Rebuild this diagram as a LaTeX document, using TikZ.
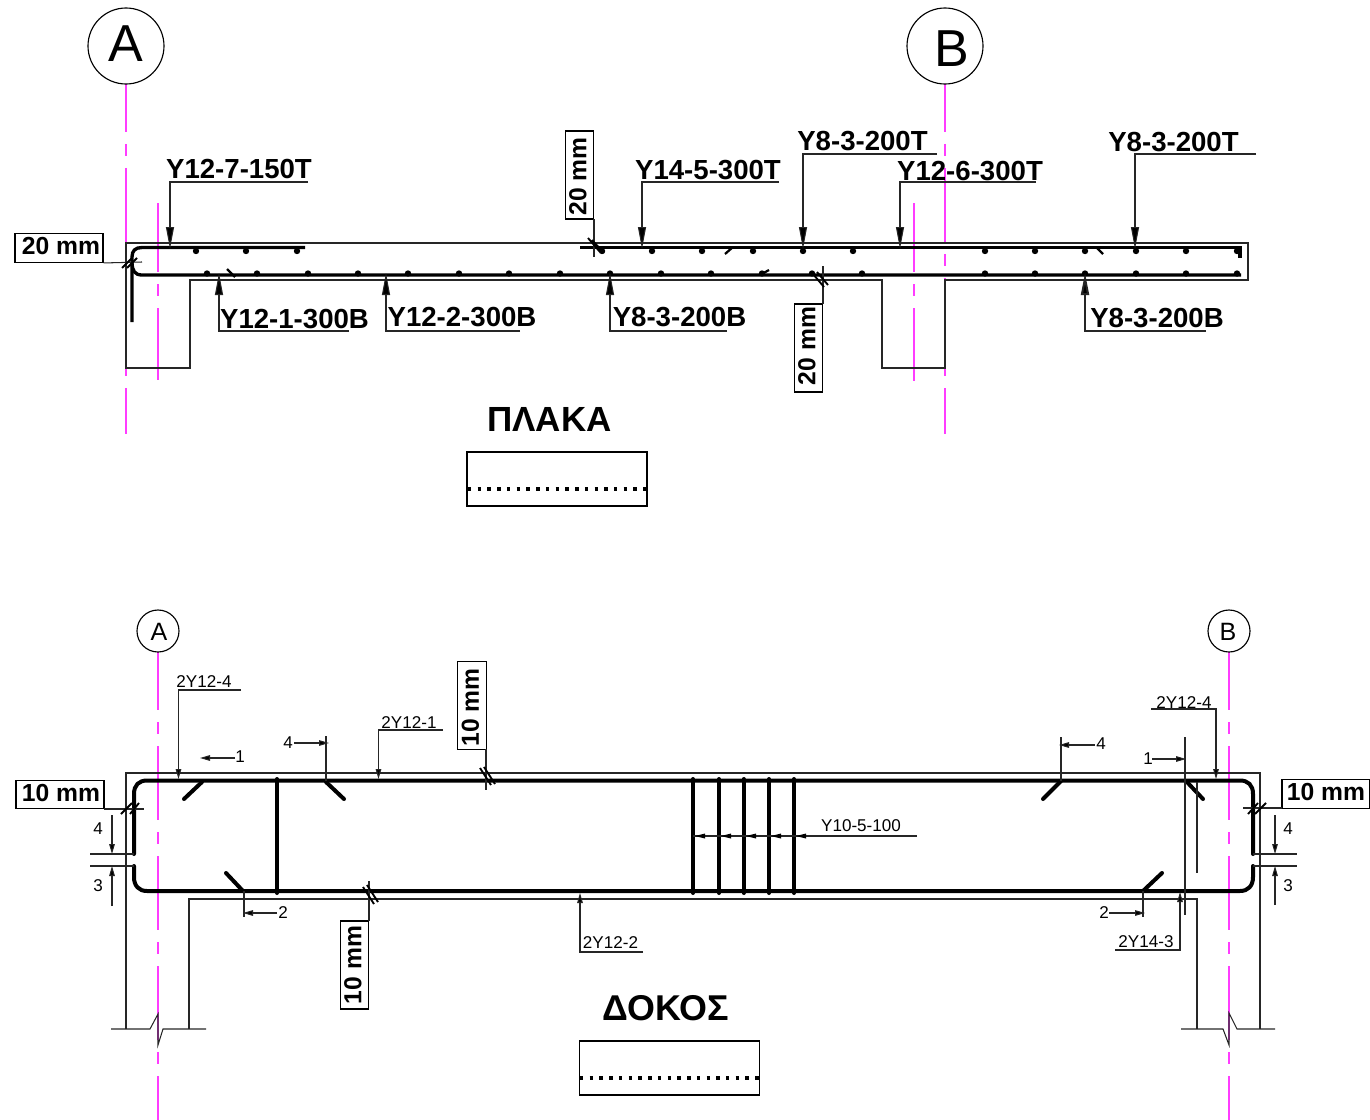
\documentclass[tikz,border=0pt]{standalone}
\usepackage{fontspec}
\setmainfont{Liberation Sans}
\usetikzlibrary{arrows.meta}
\definecolor{axis}{RGB}{255,60,255}
\tikzset{
 thinl/.style={line width=0.78pt,black!85},
 axisl/.style={line width=0.95pt,axis,dash pattern=on 55.5pt off 9pt on 9pt off 9pt},
 axisp/.style={axisl,dash phase=19.5pt},
 axisd/.style={axisl,dash phase=12pt},
 axiss/.style={line width=0.95pt,axis,dash pattern=on 52pt off 9pt on 9pt off 9pt on 60pt off 9pt},
 bar/.style={line width=2.5pt,black},
 barb/.style={line width=3pt,black,line cap=round},
 bigarrow/.style={thinl,-{Triangle[length=16.5pt,width=6pt,fill=black]}},
 smallarrow/.style={thinl,-{Triangle[length=7.5pt,width=4.2pt,fill=black]}},
 biglabel/.style={font=\fontsize{20.7}{24}\selectfont\bfseries,inner sep=0pt},
 boxlabel/.style={font=\fontsize{18.5}{22}\selectfont\bfseries,inner sep=0pt,draw,line width=0.95pt,minimum width=66pt,minimum height=21.5pt},
 smalllabel/.style={font=\fontsize{12.8}{15}\selectfont,inner sep=0pt,yshift=-0.2pt},
 axisring/.style={circle,draw,line width=0.85pt,inner sep=0pt},
 ringbig/.style={font=\fontsize{39}{44}\selectfont,inner sep=0pt},
 ringsmall/.style={font=\fontsize{18.8}{22}\selectfont,inner sep=0pt},
 sectick/.style={line width=1.4pt,black},
 rodtick/.style={line width=1.7pt,black},
 secbox/.style={draw,line width=1.1pt,minimum width=135pt,minimum height=40.5pt,inner sep=0pt},
 dottedrule/.style={line width=2.4pt,black,dash pattern=on 2.6pt off 4.7pt}
}
\newcommand{\rb}[1]{\raisebox{2.5pt}{#1}}
\begin{document}
\begin{tikzpicture}[x=0.75pt,y=-0.75pt]
\useasboundingbox (0,0) rectangle (1370,1120);
% ---------- PLAKA ----------
\draw[axisp] (126,84) -- (126,434);
\draw[axisp] (945,84) -- (945,434);
\draw[axiss] (158,203) -- (158,380);
\draw[axiss] (914,203) -- (914,381);
\node[axisring,minimum size=57pt] (circA) at (126,46) {};
\node[ringbig] (lblA) at (126,44) {A};
\node[axisring,minimum size=57pt] (circB) at (945,46) {};
\node[ringbig] (lblB) at (952,49) {B};
% concrete
\draw[thinl] (126,243) -- (1248,243) -- (1248,280) -- (945,280) -- (945,368) -- (882,368) -- (882,280) -- (190,280) -- (190,368) -- (126,368) -- cycle;
% bars
\draw[bar] (305,247.5) -- (142,247.5) .. controls (135,247.5) and (132,251) .. (132,257) -- (132,322);
\draw[bar] (132,262) .. controls (132,271) and (135,275) .. (142,275) -- (1241,275);
\draw[bar] (580,247.5) -- (1240,247.5) -- (1240,258);
\foreach \x in {196,246,297,602,652,702,753,803,853,985,1035,1085,1136,1186,1237}
  \fill (\x,251) circle (3.2);
\foreach \x in {207,257,308,358,408,459,509,560,610,661,711,762,812,862,985,1035,1085,1136,1186,1237}
  \fill (\x,273.5) circle (3.2);
\draw[rodtick] (227,269) -- (235,277);
\draw[rodtick] (725,254) -- (733,247);
\draw[rodtick] (760,275) -- (769,270);
\draw[rodtick] (1096,247) -- (1103,254);
% leaders top
\node[biglabel] (p1) at (239,169) {Y12-7-150T};
\node[biglabel] (p2) at (708,170) {Y14-5-300T};
\node[biglabel] (p3) at (862.5,141) {Y8-3-200T};
\node[biglabel] (p4) at (970,171) {Y12-6-300T};
\node[biglabel] (p5) at (1173.5,142) {Y8-3-200T};
\draw[bigarrow] (308,182) -- (170,182) -- (170,249);
\draw[bigarrow] (779,182) -- (642,182) -- (642,249);
\draw[bigarrow] (937,154) -- (803,154) -- (803,249);
\draw[bigarrow] (1036,182) -- (900,182) -- (900,249);
\draw[bigarrow] (1256,154) -- (1135,154) -- (1135,249);
% leaders bottom
\node[biglabel] (p6) at (294.5,319) {Y12-1-300B};
\node[biglabel] (p7) at (462,317.5) {Y12-2-300B};
\node[biglabel] (p8) at (679.5,317.5) {Y8-3-200B};
\node[biglabel] (p9) at (1157,318) {Y8-3-200B};
\draw[bigarrow] (349,331) -- (219,331) -- (219,273);
\draw[bigarrow] (520,331) -- (386,331) -- (386,273);
\draw[bigarrow] (727,331) -- (610,331) -- (610,273);
\draw[bigarrow,line width=1.5pt] (1206,331) -- (1085,331) -- (1085,273);
% cover dims
\node[boxlabel] (c1) at (59,248) {\rb{\hspace*{3pt}20 mm}};
\draw[thinl] (c1.south east) -- (142,262);
\draw[sectick] (122,268) -- (132,258) (127,268) -- (137,258);
\node[boxlabel,rotate=90] (c2) at (579.5,175) {\rb{20 mm\hspace*{2pt}}};
\draw[thinl] (594,219) -- (594,257);
\draw[sectick] (588,238) -- (600,252) (592,240) -- (604,253);
\node[boxlabel,rotate=90] (c3) at (808.5,348) {\rb{\hspace*{3pt}20 mm}};
\draw[thinl] (823,304) -- (823,266);
\draw[sectick] (817,272) -- (828,285) (813,274) -- (824,287);
% title
\node[font=\fontsize{26.2}{30}\selectfont\bfseries,inner sep=0pt] (t1) at (549.5,419) {ΠΛΑΚΑ};
\node[secbox] (s1) at (557,479) {};
\draw[dottedrule] (468,489) -- (646,489);
% ---------- DOKOS ----------
\draw[axisd] (158,652) -- (158,1120);
\draw[axisd] (1229,652) -- (1229,1120);
\node[axisring,minimum size=31.5pt] (circA2) at (158,631) {};
\node[ringsmall] (lblA2) at (159,632) {A};
\node[axisring,minimum size=31.5pt] (circB2) at (1229,631) {};
\node[ringsmall] (lblB2) at (1228,632) {B};
% concrete
\draw[thinl] (126,1029) -- (126,773) -- (1260,773) -- (1260,1029);
\draw[thinl] (189,1029) -- (189,899) -- (1197,899) -- (1197,1029);
\draw[thinl] (111,1029) -- (150,1029) -- (158,1014) -- (158,1045) -- (163,1029) -- (206,1029);
\draw[thinl] (1181,1029) -- (1223,1029) -- (1229,1045) -- (1229,1013) -- (1237,1029) -- (1275,1029);
% bars
\draw[barb] (134,854) -- (134,794) .. controls (134,785) and (139,780.5) .. (147,780.5) -- (1240,780.5) .. controls (1248,780.5) and (1253,785) .. (1253,794) -- (1253,854);
\draw[barb] (134,866) -- (134,877) .. controls (134,886) and (139,891) .. (147,891) -- (1240,891) .. controls (1248,891) and (1253,886) .. (1253,877) -- (1253,866);
\foreach \x in {277,693,719,743.5,769,794}
  \draw[barb] (\x,779) -- (\x,893);
\draw[barb] (184,799) -- (202,782);
\draw[barb] (326,782) -- (344,799);
\draw[barb] (226,873) -- (243,891);
\draw[barb] (1043,799) -- (1061,781);
\draw[barb] (1186,781) -- (1203,799);
\draw[barb] (1143,891) -- (1162,873);
% leaders
\node[smalllabel] (d1) at (204,681) {2Y12-4};
\draw[smallarrow] (241,690) -- (178.5,690) -- (178.5,779);
\node[smalllabel] (d2) at (409,722) {2Y12-1};
\draw[smallarrow] (443,730) -- (378.5,730) -- (378.5,779);
\node[smalllabel] (d3) at (1184,702) {2Y12-4};
\draw[smallarrow] (1151,709) -- (1216,709) -- (1216,779);
\node[smalllabel] (d4) at (1146,941) {2Y14-3};
\draw[smallarrow] (1115,950) -- (1180,950) -- (1180,892);
\node[smalllabel] (d5) at (610.5,942) {2Y12-2};
\draw[smallarrow] (643,952) -- (580,952) -- (580,893);
\node[smalllabel] (d6) at (861,825) {Y10-5-100};
\draw[thinl] (917,836) -- (693,836);
\foreach \x in {695,721,746,771,796}
  \fill (\x,836) -- (\x+10,833.5) -- (\x+10,838.5) -- cycle;
% section marks
\node[smalllabel] (m1) at (240,756) {1};
\draw[smallarrow] (235,758) -- (200,758);
\node[smalllabel] (m2) at (288,742) {4};
\draw[smallarrow] (294,743) -- (329,743);
\draw[thinl] (326,736) -- (326,781);
\node[smalllabel] (m3) at (283,912) {2};
\draw[smallarrow] (277,913) -- (243,913);
\draw[thinl] (244,891) -- (244,917);
\node[smalllabel] (m4) at (1101,743) {4};
\draw[smallarrow] (1095,745) -- (1059,745);
\draw[thinl] (1061,737) -- (1061,781);
\node[smalllabel] (m5) at (1148,758) {1};
\draw[smallarrow] (1152,759) -- (1186,759);
\draw[thinl] (1185,737) -- (1185,915);
\draw[thinl] (1197,782) -- (1197,873);
\node[smalllabel] (m6) at (1104,912) {2};
\draw[smallarrow] (1109,913) -- (1145,913);
\draw[thinl] (1143,891) -- (1143,917);
% cover dims
\node[boxlabel] (c4) at (60,794.5) {\rb{\hspace*{1.5pt}10 mm}};
\draw[thinl] (104,809) -- (144,809);
\draw[sectick] (121,814) -- (132,803) (130,814) -- (139,803);
\node[boxlabel] (c5) at (1326,794) {\rb{10 mm}};
\draw[thinl] (1282,808) -- (1243,808);
\draw[sectick] (1248,814) -- (1258,803) (1255,814) -- (1266,803);
\node[boxlabel,rotate=90] (c6) at (472,705.5) {\rb{10 mm\hspace*{3pt}}};
\draw[thinl] (486,749) -- (486,790);
\draw[sectick] (480,768) -- (491,785) (484,767) -- (495,784);
\node[boxlabel,rotate=90] (c7) at (354.5,965) {\rb{10 mm}};
\draw[thinl] (369,921) -- (369,881);
\draw[sectick] (363,887) -- (374,904) (367,885) -- (378,902);
% stirrup gap dims
\draw[thinl] (90,854) -- (134,854) (90,866) -- (134,866);
\draw[smallarrow] (112,815) -- (112,854);
\draw[smallarrow] (112,906) -- (112,866);
\node[smalllabel] (g1) at (98,828) {4};
\node[smalllabel] (g2) at (98,885) {3};
\draw[thinl] (1253,854) -- (1297,854) (1253,866) -- (1297,866);
\draw[smallarrow] (1275,815) -- (1275,854);
\draw[smallarrow] (1275,905) -- (1275,866);
\node[smalllabel] (g3) at (1288,828) {4};
\node[smalllabel] (g4) at (1288,885) {3};
% title
\node[font=\fontsize{26.9}{30}\selectfont\bfseries,inner sep=0pt] (t2) at (666,1008) {ΔΟΚΟΣ};
\node[secbox] (s2) at (669.5,1068) {};
\draw[dottedrule] (580,1078) -- (759,1078);
\end{tikzpicture}
\end{document}
